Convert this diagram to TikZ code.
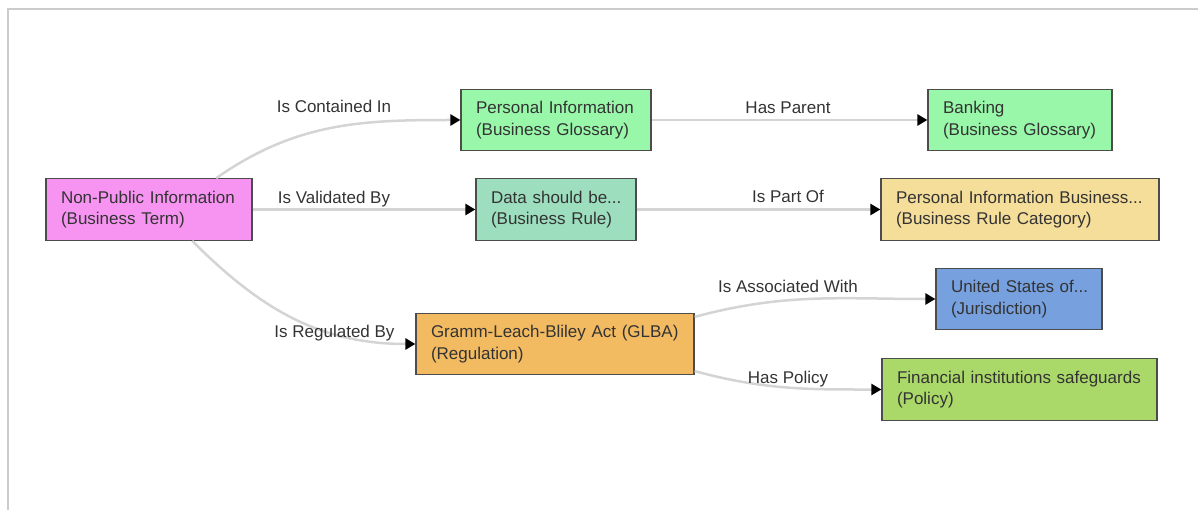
\documentclass[tikz,border=0pt]{standalone}
\usepackage{fontspec}
\setmainfont{Liberation Sans}
\usepackage{xcolor}
\usepackage{tikz}
\usetikzlibrary{arrows.meta,positioning}

\definecolor{termpink}{HTML}{F794F2}
\definecolor{glossgreen}{HTML}{99F7AA}
\definecolor{rulegreen}{HTML}{9DDEBE}
\definecolor{catyellow}{HTML}{F5DD9A}
\definecolor{regorange}{HTML}{F2BB62}
\definecolor{jurblue}{HTML}{77A0DF}
\definecolor{policylime}{HTML}{AAD869}
\definecolor{linkgray}{HTML}{D4D4D4}
\definecolor{framegray}{HTML}{CCCCCC}
\definecolor{inkgray}{HTML}{333333}

\begin{document}
\begin{tikzpicture}[x=1pt, y=1pt,
    entity/.style={draw=black!70, line width=1.2pt, fill=#1, minimum height=61.5pt,
        inner xsep=15pt, align=left, text=inkgray, font=\fontsize{17}{21.5}\selectfont},
    relation/.style={draw=linkgray, line width=2.5pt,
        -{Triangle[length=10pt, width=11pt, color=black]}},
    reltext/.style={anchor=base, inner sep=0pt, text=inkgray, font=\fontsize{17}{20}\selectfont}]
    \useasboundingbox (0,0) rectangle (1198,-510);

    % Frame
    \draw[framegray, line width=2pt] (8,-510) -- (8,-9) -- (1198,-9);

    % Entities
    \node[entity=termpink, text width=176pt] (npi) at (149,-209.5) {\mbox{Non-Public Information}\\(Business Term)};
    \node[entity=glossgreen, text width=160pt] (pinfo) at (556,-120) {\mbox{Personal Information}\\(Business Glossary)};
    \node[entity=glossgreen, text width=154pt] (banking) at (1020,-120) {Banking\\\mbox{(Business Glossary)}};
    \node[entity=rulegreen, text width=130pt] (rule) at (556,-209.5) {\mbox{Data should be...}\\\mbox{(Business Rule)}};
    \node[entity=catyellow, text width=248pt] (category) at (1020,-209.5) {\mbox{Personal Information Business...}\\(Business Rule Category)};
    \node[entity=regorange, text width=248pt] (glba) at (555,-344) {\mbox{Gramm-Leach-Bliley Act (GLBA)}\\(Regulation)};
    \node[entity=jurblue, text width=136pt] (jurisdiction) at (1019,-299) {\mbox{United States of...}\\(Jurisdiction)};
    \node[entity=policylime, text width=245pt] (policy) at (1019.5,-389.5) {\mbox{Financial institutions safeguards}\\(Policy)};

    % Relations
    \draw[relation] (npi.25) to[out=35, in=180] (pinfo.west);
    \draw[relation] (npi.east) -- (rule.west);
    \draw[relation] (npi.-36) to[out=-45, in=180] (glba.west);
    \draw[relation] (pinfo.east) -- (banking.west);
    \draw[relation] (rule.east) -- (category.west);
    \draw[relation] (glba.11) to[out=15, in=180] (jurisdiction.west);
    \draw[relation] (glba.-11) to[out=-15, in=180] (policy.west);

    % Relation labels
    \node[reltext] (lblcontained) at (334,-113) {Is Contained In};
    \node[reltext] (lblvalidated) at (334,-203.5) {Is Validated By};
    \node[reltext] (lblregulated) at (334.5,-337.5) {Is Regulated By};
    \node[reltext] (lblparent) at (788,-113.5) {Has Parent};
    \node[reltext] (lblpartof) at (788,-203) {Is Part Of};
    \node[reltext] (lblassoc) at (788,-293) {Is Associated With};
    \node[reltext] (lblpolicy) at (788,-383) {Has Policy};
\end{tikzpicture}
\end{document}
